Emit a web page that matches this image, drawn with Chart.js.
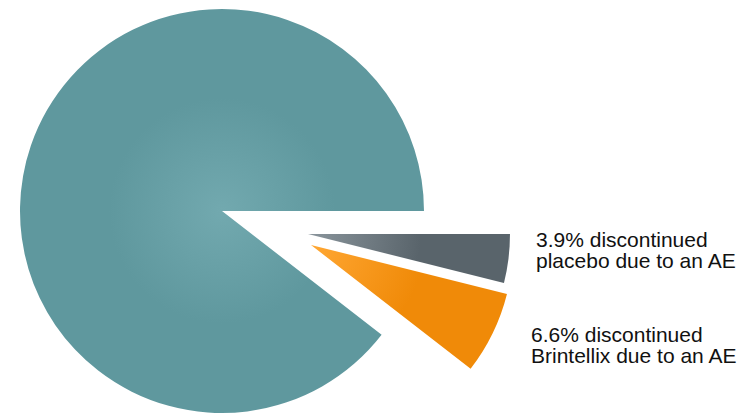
<!DOCTYPE html>
<html><head><meta charset="utf-8">
<script src="https://cdn.jsdelivr.net/npm/chart.js"></script>
<style>
body{margin:0;width:755px;height:415px;overflow:hidden;background:#fff;position:relative;font-family:"Liberation Sans",Arial,sans-serif;}
.wrap{position:absolute;width:440px;height:440px;}
.lbl{position:absolute;font-size:21px;line-height:21px;color:#111;white-space:nowrap;}
</style></head><body>
<div class="wrap" style="left:2px;top:-9px"><canvas id="cBig"></canvas></div>
<div class="wrap" style="left:88px;top:14px"><canvas id="cGray"></canvas></div>
<div class="wrap" style="left:91px;top:25px"><canvas id="cOrange"></canvas></div>
<div class="lbl" style="left:536px;top:229px">3.9% discontinued<br>placebo due to an AE</div>
<div class="lbl" style="left:531px;top:324px">6.6% discontinued<br>Brintellix due to an AE</div>
<script>
// slices, clockwise from 3 o'clock
const labels = ['Placebo discontinued', 'Brintellix discontinued', 'Other'];
const values = [3.9, 6.6, 89.5];
const colors = [['#8a959c','#59646b'], ['#ffa733','#f08a08'], ['#72a9af','#5f989e']];
const radii = [202, 202, 202];

function fill(show){
    return function(context){
        const i = context.dataIndex;
        if (i !== show) return 'rgba(0,0,0,0)';
        const chart = context.chart, a = chart.chartArea;
        const c = colors[i];
        if (!a) return c[1];
        const x = (a.left+a.right)/2, y = (a.top+a.bottom)/2;
        const g = chart.ctx.createRadialGradient(x, y, 0, x, y, 205);
        g.addColorStop(0, c[0]); g.addColorStop(0.55, c[1]); g.addColorStop(1, c[1]);
        return g;
    };
}

function slice(id, idx){
    new Chart(document.getElementById(id), {
        type: 'pie',
        data: { labels: labels, datasets: [{ data: values, backgroundColor: fill(idx), borderWidth: 0 }] },
        options: { responsive: true, maintainAspectRatio: false, animation: false,
            rotation: 90, radius: radii[idx],
            plugins: { legend: { display: false }, tooltip: { enabled: false } } }
    });
}
slice('cBig', 2);
slice('cGray', 0);
slice('cOrange', 1);
</script>
</body></html>
